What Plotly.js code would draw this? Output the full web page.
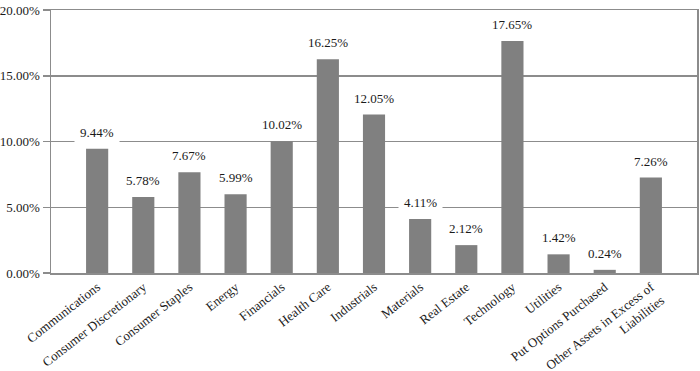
<!DOCTYPE html>
<html>
<head>
<meta charset="utf-8">
<script src="https://cdn.plot.ly/plotly-3.0.1.min.js"></script>
<style>html,body{margin:0;padding:0;background:#fff;}#chart{width:700px;height:371px;}</style>
</head>
<body>
<div id="chart"></div>
<script>
const categories = ["Communications","Consumer Discretionary","Consumer Staples","Energy","Financials","Health Care","Industrials","Materials","Real Estate","Technology","Utilities","Put Options Purchased","Other Assets in Excess of<br>Liabilities"];
const values = [9.44, 5.78, 7.67, 5.99, 10.02, 16.25, 12.05, 4.11, 2.12, 17.65, 1.42, 0.24, 7.26];
const yTicks = [0, 5, 10, 15, 20];
const yTickText = yTicks.map(v => v.toFixed(2) + "%");

const font = {family: "Liberation Serif", size: 13, color: "#1a1a1a"};
const lineGray = "#8c8c8c";

const trace = {
  type: "bar",
  x: categories,
  y: values,
  width: 0.48,
  marker: {color: "#808080"},
  hoverinfo: "none"
};

const annotations = categories.map((c, i) => ({
  x: c, y: values[i],
  text: values[i].toFixed(2) + "%",
  showarrow: false,
  yanchor: "bottom",
  yshift: 3,
  bgcolor: "#ffffff",
  borderpad: 5,
  font: font
}));

const layout = {
  width: 700, height: 371,
  margin: {l: 51, r: 3, t: 10, b: 98},
  paper_bgcolor: "#ffffff",
  plot_bgcolor: "#ffffff",
  font: font,
  showlegend: false,
  xaxis: {
    type: "category",
    range: [-1, 13],
    tickangle: -38,
    showgrid: false,
    showline: true, linecolor: lineGray, linewidth: 1.5, mirror: true,
    ticks: "",
    tickfont: font,
    fixedrange: true
  },
  yaxis: {
    range: [0, 20],
    tickmode: "array",
    tickvals: yTicks,
    ticktext: yTickText,
    showgrid: true, gridcolor: lineGray, gridwidth: 1.5,
    zeroline: false,
    showline: true, linecolor: lineGray, linewidth: 1.5, mirror: true,
    ticks: "outside", ticklen: 7, tickcolor: lineGray, tickwidth: 1.5,
    tickfont: font,
    fixedrange: true
  },
  annotations: annotations
};

Plotly.newPlot("chart", [trace], layout, {displayModeBar: false, staticPlot: true});
</script>
</body>
</html>
